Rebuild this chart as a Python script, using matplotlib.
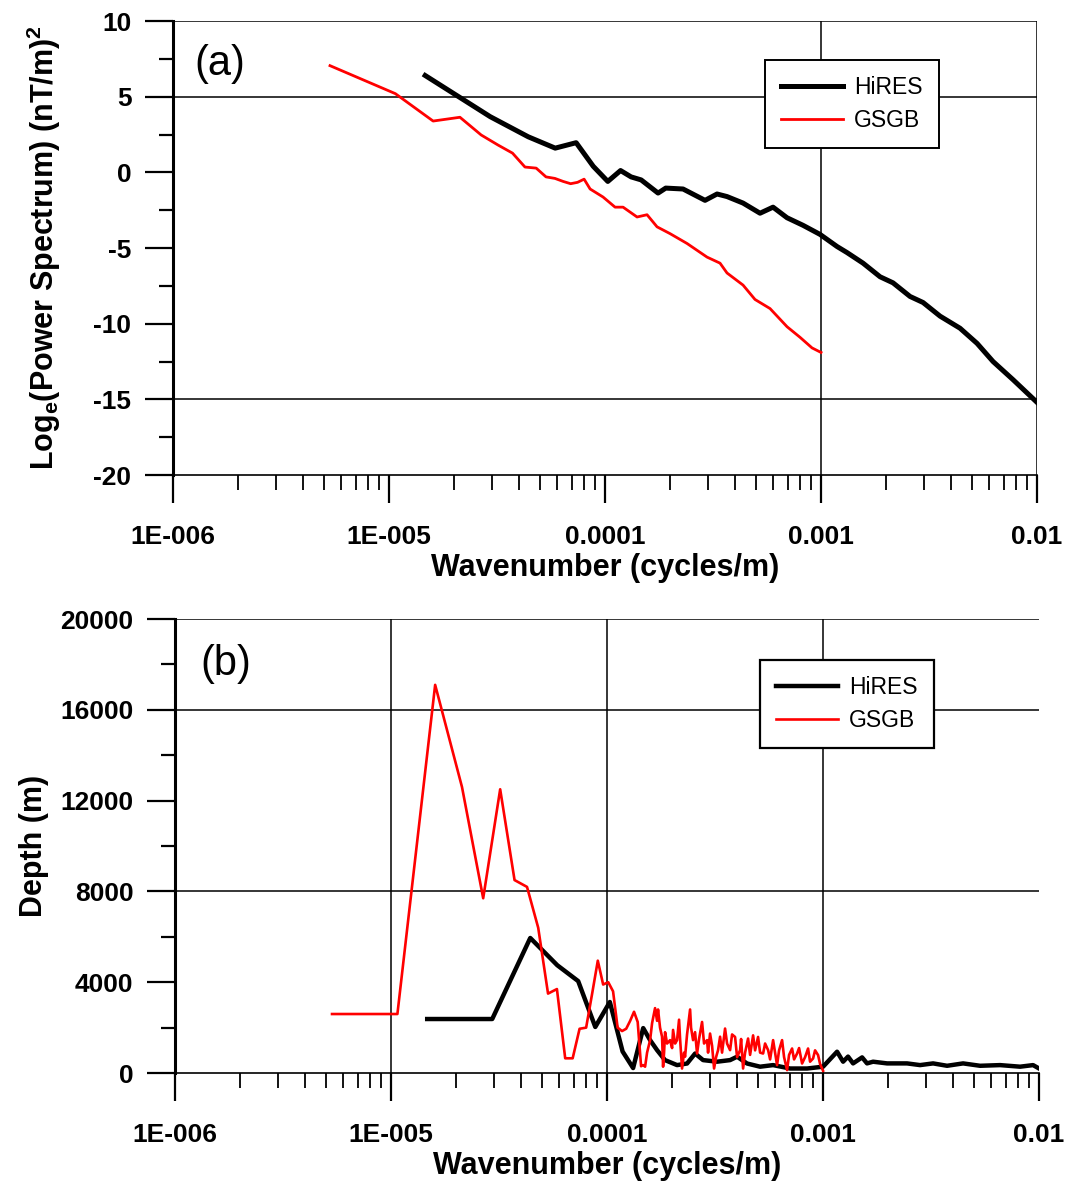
import matplotlib
matplotlib.use("Agg")
import matplotlib.pyplot as plt
from matplotlib.ticker import LogLocator, NullFormatter, MultipleLocator

plt.rcParams['font.family'] = ['Liberation Sans', 'DejaVu Sans']
plt.rcParams['mathtext.default'] = 'regular'

# ---------------- data: panel (a) ----------------
hires_k_a = [1.47e-5, 2.94e-5, 4.41e-5, 5.88e-5, 7.35e-5, 8.82e-5, 1.03e-4, 1.18e-4, 1.32e-4,
             1.47e-4, 1.76e-4, 1.91e-4, 2.297e-4, 2.904e-4, 3.301e-4, 3.671e-4, 4.355e-4,
             5.219e-4, 5.995e-4, 6.96e-4, 8.254e-4, 9.894e-4, 1.186e-3, 1.319e-3, 1.565e-3,
             1.876e-3, 2.154e-3, 2.582e-3, 2.967e-3, 3.556e-3, 4.4e-3, 5.276e-3, 6.256e-3,
             7.743e-3, 1.0e-2]
hires_p_a = [6.4, 3.68, 2.35, 1.6, 1.96, 0.4, -0.6, 0.12, -0.3,
             -0.5, -1.37, -1.04, -1.1, -1.85, -1.43, -1.6, -2.03,
             -2.7, -2.3, -3.0, -3.5, -4.1, -4.9, -5.3, -6.0,
             -6.9, -7.3, -8.2, -8.6, -9.5, -10.3, -11.3, -12.5,
             -13.7, -15.2]

gsgb_k_a = [5.33e-6, 1.07e-5, 1.60e-5, 2.13e-5, 2.67e-5, 3.20e-5, 3.73e-5, 4.26e-5, 4.80e-5,
            5.33e-5, 5.86e-5, 6.40e-5, 6.93e-5, 7.46e-5, 8.00e-5, 8.53e-5, 9.79e-5, 1.113e-4,
            1.212e-4, 1.407e-4, 1.565e-4, 1.741e-4, 2.0e-4, 2.397e-4, 2.966e-4, 3.407e-4,
            3.671e-4, 4.355e-4, 4.947e-4, 5.806e-4, 6.96e-4, 7.994e-4, 9.085e-4, 1.0e-3]
gsgb_p_a = [7.05, 5.2, 3.39, 3.64, 2.47, 1.8, 1.27, 0.35, 0.28,
            -0.3, -0.4, -0.6, -0.75, -0.66, -0.45, -1.1, -1.63, -2.3,
            -2.3, -2.95, -2.8, -3.6, -4.05, -4.7, -5.6, -6.0,
            -6.65, -7.45, -8.4, -9.0, -10.2, -10.9, -11.6, -11.9]

# ---------------- data: panel (b) ----------------
hires_k_b = [1.47e-5, 2.94e-5, 4.41e-5, 5.88e-5, 7.35e-5, 8.82e-5, 1.03e-4, 1.18e-4, 1.32e-4,
             1.47e-4, 1.582e-4, 1.704e-4, 1.855e-4, 2.109e-4, 2.346e-4, 2.556e-4, 2.783e-4,
             3.231e-4, 3.710e-4, 4.0e-4, 4.448e-4, 5.109e-4, 5.869e-4, 7.035e-4, 8.434e-4,
             1.0e-3, 1.161e-3, 1.238e-3, 1.305e-3, 1.377e-3, 1.516e-3, 1.598e-3, 1.704e-3,
             1.979e-3, 2.448e-3, 2.812e-3, 3.231e-3, 3.751e-3, 4.448e-3, 5.333e-3, 6.597e-3,
             8.166e-3, 9.380e-3, 1.0e-2]
hires_d_b = [2380, 2380, 5950, 4750, 4050, 2030, 3130, 950, 220,
             1980, 1450, 1010, 570, 350, 420, 860, 570,
             500, 570, 720, 420, 280, 350, 200, 200,
             280, 940, 500, 725, 425, 690, 425, 500,
             425, 425, 350, 425, 320, 425, 320, 350,
             280, 350, 200]

gsgb_k_b = [5.33e-6, 1.07e-5, 1.60e-5, 2.13e-5, 2.67e-5, 3.20e-5, 3.73e-5, 4.26e-5, 4.80e-5,
            5.33e-5, 5.86e-5, 6.40e-5, 6.93e-5, 7.46e-5, 8.00e-5, 8.53e-5, 9.06e-5, 9.59e-5,
            1.013e-4, 1.066e-4, 1.119e-4, 1.173e-4, 1.226e-4, 1.279e-4, 1.333e-4, 1.386e-4,
            1.437e-4, 1.468e-4, 1.500e-4, 1.532e-4, 1.582e-4, 1.616e-4, 1.668e-4, 1.704e-4,
            1.722e-4, 1.759e-4, 1.797e-4, 1.817e-4, 1.836e-4, 1.856e-4, 1.896e-4, 1.957e-4,
            2.000e-4, 2.021e-4, 2.065e-4, 2.109e-4, 2.154e-4, 2.178e-4, 2.224e-4, 2.272e-4,
            2.297e-4, 2.346e-4, 2.423e-4, 2.448e-4, 2.501e-4, 2.555e-4, 2.610e-4, 2.666e-4,
            2.753e-4, 2.812e-4, 2.904e-4, 2.935e-4, 2.998e-4, 3.063e-4, 3.129e-4, 3.196e-4,
            3.265e-4, 3.336e-4, 3.407e-4, 3.518e-4, 3.594e-4, 3.711e-4, 3.791e-4, 3.914e-4,
            3.999e-4, 4.129e-4, 4.173e-4, 4.263e-4, 4.355e-4, 4.496e-4, 4.593e-4, 4.743e-4,
            4.845e-4, 5.001e-4, 5.110e-4, 5.277e-4, 5.390e-4, 5.566e-4, 5.686e-4, 5.871e-4,
            5.995e-4, 6.124e-4, 6.256e-4, 6.460e-4, 6.599e-4, 6.813e-4, 6.960e-4, 7.186e-4,
            7.341e-4, 7.580e-4, 7.743e-4, 7.995e-4, 8.254e-4, 8.522e-4, 8.706e-4, 8.989e-4,
            9.183e-4, 9.482e-4, 9.686e-4, 9.894e-4, 1.0e-3]
gsgb_d_b = [2600, 2600, 17100, 12600, 7700, 12500, 8500, 8200, 6400,
            3500, 3700, 650, 650, 1950, 2000, 3500, 4950, 3900,
            4000, 3600, 2000, 1850, 1950, 2300, 2700, 2250,
            300, 350, 280, 900, 1450, 2200, 2860, 2300,
            2800, 2000, 1600, 280, 900, 1800, 1300, 1450,
            1100, 1900, 1300, 1450, 2350, 1500, 200, 900,
            720, 1700, 2800, 2000, 1450, 1800, 860, 1500,
            2250, 1300, 1450, 900, 1740, 1200, 200, 700,
            1010, 1600, 900, 1960, 1300, 1010, 1700, 1590,
            700, 1010, 1500, 200, 900, 1520, 800, 1660,
            1000, 1590, 900, 860, 1300, 1010, 600, 1450,
            900, 350, 1000, 1450, 700, 130, 800, 1080,
            600, 860, 1100, 420, 700, 1080, 500, 640,
            1000, 790, 400, 200, 100]

xtick_vals = [1e-6, 1e-5, 1e-4, 1e-3, 1e-2]
xtick_labels = ['1E-006', '1E-005', '0.0001', '0.001', '0.01']
ytick_a = [-20, -15, -10, -5, 0, 5, 10]
ytick_b = [0, 4000, 8000, 12000, 16000, 20000]

TICKFS = 19
LABFS = 22
LEGFS = 16.5

fig = plt.figure(figsize=(10.70, 11.87), dpi=100)
ax1 = fig.add_axes([0.1617, 0.5998, 0.8075, 0.3825])
ax2 = fig.add_axes([0.1636, 0.0960, 0.8075, 0.3825])


def style(ax, yticks, yminor, ylim):
    ax.set_xscale('log')
    ax.set_xlim(1e-6, 1e-2)
    ax.set_ylim(*ylim)
    ax.set_xticks(xtick_vals)
    ax.set_xticklabels(xtick_labels, fontsize=TICKFS, fontweight='bold')
    ax.xaxis.set_minor_locator(LogLocator(base=10, subs=range(2, 10), numticks=20))
    ax.xaxis.set_minor_formatter(NullFormatter())
    ax.set_yticks(yticks)
    ax.set_yticklabels([str(v) for v in yticks], fontsize=TICKFS, fontweight='bold')
    ax.yaxis.set_minor_locator(MultipleLocator(yminor))
    ax.spines['top'].set_visible(False)
    ax.spines['right'].set_visible(False)
    ax.spines['left'].set_linewidth(2.2)
    ax.spines['bottom'].set_linewidth(1.2)
    ax.tick_params(axis='x', which='major', direction='out', length=20, width=1.6, pad=16)
    ax.tick_params(axis='x', which='minor', direction='out', length=11, width=1.3)
    ax.tick_params(axis='y', which='major', direction='out', length=20, width=1.6, pad=10)
    ax.tick_params(axis='y', which='minor', direction='out', length=10, width=1.6)
    ax.set_xlabel('Wavenumber (cycles/m)', fontsize=LABFS, fontweight='bold', labelpad=3)


# ---------- panel (a) ----------
style(ax1, ytick_a, 2.5, (-20, 10))
for yv in [10, 5, -15]:
    ax1.axhline(yv, color='black', lw=1.1, zorder=1)
for xv in [1e-3, 1e-2]:
    ax1.axvline(xv, color='black', lw=1.1, zorder=1)
ax1.plot(hires_k_a, hires_p_a, color='black', lw=3.6, label='HiRES', zorder=3)
ax1.plot(gsgb_k_a, gsgb_p_a, color='#ff0000', lw=2.0, label='GSGB', zorder=3)
ax1.set_ylabel('Log$_{e}$(Power Spectrum) (nT/m)$^{2}$', fontsize=LABFS, fontweight='bold', labelpad=22)
ax1.text(0.025, 0.905, '(a)', transform=ax1.transAxes, fontsize=30, va='center', ha='left')
leg1 = ax1.legend(loc='upper left', bbox_to_anchor=(0.685, 0.914), borderaxespad=0,
                  fontsize=LEGFS, frameon=True, fancybox=False, framealpha=1,
                  edgecolor='black', handlelength=2.7, handletextpad=0.5,
                  borderpad=0.7, labelspacing=0.45)
leg1.get_frame().set_linewidth(1.4)
leg1.set_zorder(5)

# ---------- panel (b) ----------
style(ax2, ytick_b, 2000, (0, 20000))
for yv in [20000, 16000, 8000]:
    ax2.axhline(yv, color='black', lw=1.1, zorder=1)
for xv in [1e-5, 1e-4, 1e-3]:
    ax2.axvline(xv, color='black', lw=1.1, zorder=1)
ax2.plot(hires_k_b, hires_d_b, color='black', lw=3.2, label='HiRES', zorder=3)
ax2.plot(gsgb_k_b, gsgb_d_b, color='#ff0000', lw=1.9, label='GSGB', zorder=4)
ax2.set_ylabel('Depth (m)', fontsize=LABFS, fontweight='bold', labelpad=8)
ax2.text(0.029, 0.901, '(b)', transform=ax2.transAxes, fontsize=30, va='center', ha='left')
leg2 = ax2.legend(loc='upper left', bbox_to_anchor=(0.677, 0.910), borderaxespad=0,
                  fontsize=LEGFS, frameon=True, fancybox=False, framealpha=1,
                  edgecolor='black', handlelength=2.7, handletextpad=0.5,
                  borderpad=0.7, labelspacing=0.45)
leg2.get_frame().set_linewidth(1.6)
leg2.set_zorder(5)

fig.savefig('out.png', dpi=100)
